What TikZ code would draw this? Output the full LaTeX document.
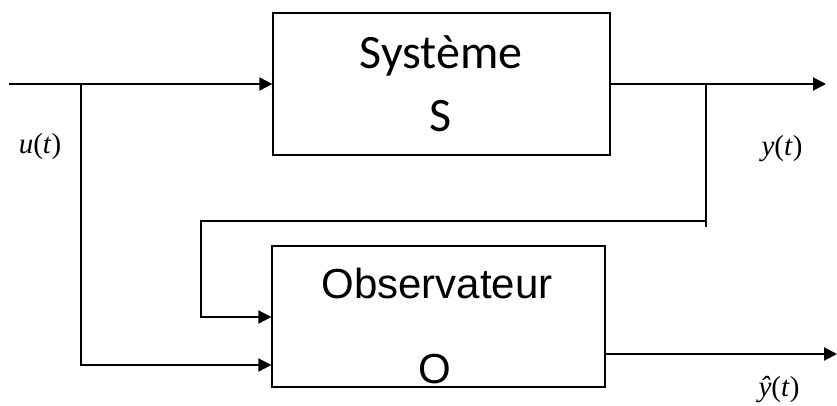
\documentclass[tikz,border=0pt]{standalone}
\usepackage{fontspec}
\setmainfont{Liberation Serif}
\newfontfamily\calib{Carlito}
\newfontfamily\arial{Liberation Sans}
\usetikzlibrary{arrows.meta}
\tikzset{
  blok/.style={draw,line width=1.3pt,inner sep=0pt},
  sig/.style={line width=2pt},
  lbl/.style={anchor=base,font=\fontsize{29}{29}\selectfont},
}
\begin{document}
\begin{tikzpicture}[x=1pt,y=-1pt,>={Triangle[length=13pt,width=13pt]}]
            \useasboundingbox (0,0) rectangle (837,405);
            % blocs
            \node[blok,minimum width=337pt,minimum height=142pt] (sys) at (441.5,84) {};
            \node[blok,minimum width=333pt,minimum height=141pt] (obs) at (438.5,316.5) {};
            \node[anchor=base,font=\calib\fontsize{48}{48}\selectfont] (systxt) at (441,68) {Système};
            \node[anchor=base,font=\calib\fontsize{48}{48}\selectfont] (sysS) at (441,131) {S};
            \node[anchor=base,font=\arial\fontsize{42}{42}\selectfont] (obstxt) at (437,298) {Observateur};
            \node[anchor=base,font=\arial\fontsize{42}{42}\selectfont] (obsO) at (435,383) {O};
            % points
            \coordinate (in) at (9,84);
            \coordinate (ubr) at (81,84);
            \coordinate (ytap) at (706,84);
            \coordinate (yend) at (826,84);
            \coordinate (fb) at (706,221);
            \coordinate (fbl) at (201,221);
            \coordinate (yhat) at (837,354);
            % signaux
            \draw[sig,->] (in) -- (sys.west);
            \draw[sig,->] (ubr) |- (obs.west |- 0,365);
            \draw[sig,->] (sys.east) -- (yend);
            \draw[sig] (ytap) -- ++(0,143);
            \draw[sig,->] (fb) -- (fbl) |- (obs.west |- 0,317);
            \draw[sig,->] (obs.east |- 0,354) -- (yhat);
            % labels
            \node[lbl] (ulab) at (40,153) {\textit{u}(\textit{t})};
            \node[lbl] (ylab) at (782,155) {\textit{y}(\textit{t})};
            \node[lbl] (yhlab) at (779,396) {\textit{ŷ}(\textit{t})};
        \end{tikzpicture}
\end{document}
